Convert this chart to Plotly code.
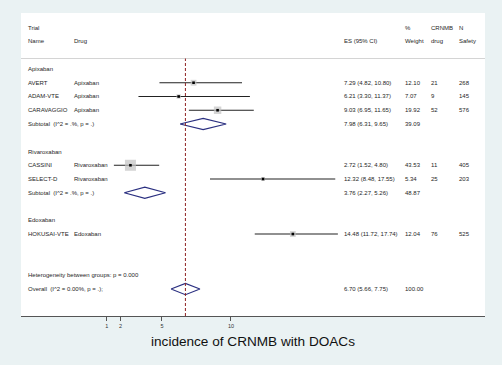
import plotly.graph_objects as go

# ---------------- data ----------------
groups = ["Apixaban", "Rivaroxaban", "Edoxaban"]
studies = ["AVERT", "ADAM-VTE", "CARAVAGGIO", "CASSINI", "SELECT-D", "HOKUSAI-VTE"]
drugs = ["Apixaban", "Apixaban", "Apixaban", "Rivaroxaban", "Rivaroxaban", "Edoxaban"]
es = [7.29, 6.21, 9.03, 2.72, 12.32, 14.48]
ci_lo = [4.82, 3.30, 6.95, 1.52, 8.48, 11.72]
ci_hi = [10.80, 11.37, 11.65, 4.80, 17.55, 17.74]
weight = [12.10, 7.07, 19.92, 43.53, 5.34, 12.04]
crnmb = [21, 9, 52, 11, 25, 76]
n_safety = [268, 145, 576, 405, 203, 525]

sub_groups = ["Apixaban", "Rivaroxaban"]
sub_es = [7.98, 3.76]
sub_lo = [6.31, 2.27]
sub_hi = [9.65, 5.26]
sub_w = [39.09, 48.87]

overall_es = 6.70
overall_lo = 5.66
overall_hi = 7.75
overall_w = 100.00
het_p = "0.000"

tick_vals = [1, 2, 5, 10]
axis_title = "incidence of CRNMB with DOACs"

# ---------------- layout helpers ----------------
W, H = 502, 365
L, R, T, B = 21, 17, 13, 49
PW = W - L - R

def px(x):
    return (x - L) / PW

FONT = "Liberation Sans, Arial, sans-serif"
TXT = "#262626"
FS = 6

# row assignment
study_rows = []
group_rows = []
sub_rows = []
r = 3
for g in groups:
    group_rows.append(r)
    r += 1
    n = drugs.count(g)
    for _ in range(n):
        study_rows.append(r)
        r += 1
    if g in sub_groups:
        sub_rows.append(r)
        r += 1
    r += 1
het_row = 18
overall_row = 19

fig = go.Figure()

# CI lines
lx, ly = [], []
for lo, hi, row in zip(ci_lo, ci_hi, study_rows):
    lx += [lo, hi, None]
    ly += [row, row, None]
fig.add_trace(go.Scatter(x=lx, y=ly, mode="lines",
                         line=dict(color="#222222", width=1.1),
                         hoverinfo="skip", showlegend=False))
# weight boxes
fig.add_trace(go.Scatter(x=es, y=study_rows, mode="markers",
                         marker=dict(symbol="square", color="#c2c2c2",
                                     size=[1.67 * w ** 0.5 for w in weight],
                                     line=dict(width=0)),
                         hoverinfo="skip", showlegend=False))
# point estimates
fig.add_trace(go.Scatter(x=es, y=study_rows, mode="markers",
                         marker=dict(symbol="square", color="#000000", size=2.6,
                                     line=dict(width=0)),
                         hoverinfo="skip", showlegend=False))

# diamonds
h = 0.41
dx, dy = [], []
for e, lo, hi, row in list(zip(sub_es, sub_lo, sub_hi, sub_rows)) + [(overall_es, overall_lo, overall_hi, overall_row)]:
    dx += [lo, e, hi, e, lo, None]
    dy += [row, row - h, row, row + h, row, None]
fig.add_trace(go.Scatter(x=dx, y=dy, mode="lines",
                         line=dict(color="#2a2f80", width=1.1),
                         hoverinfo="skip", showlegend=False))

sep_row = 2.24
shapes = [
    dict(type="line", xref="paper", yref="y", x0=0, x1=1, y0=sep_row, y1=sep_row,
         line=dict(color="#d4d4d4", width=1)),
    dict(type="line", xref="x", yref="paper", x0=overall_es, x1=overall_es,
         y0=0, y1=(20.96 - sep_row) / (20.96 + 1.07),
         line=dict(color="#8e2222", width=1, dash="3px,2px")),
]

ann = []
def txt(x, y, s, size=FS, color=TXT):
    ann.append(dict(xref="paper", yref="y", x=px(x) - 1 / PW, y=y, text=s,
                    showarrow=False, xanchor="left", yanchor="middle",
                    font=dict(family=FONT, size=size, color=color)))

C1, C2, C3, C4, C5, C6 = 26.7, 73.3, 342.7, 403.5, 429.5, 458.0
# headers
txt(C1, 0, "Trial")
txt(C1, 1, "Name")
txt(C2, 1, "Drug")
txt(C3, 1, "ES (95% CI)")
txt(C4, 0, "%")
txt(C4, 1, "Weight")
txt(C5, 0, "CRNMB")
txt(C5, 1, "drug")
txt(C6, 0, "N")
txt(C6, 1, "Safety")

for g, row in zip(groups, group_rows):
    txt(C1, row, g)
for i, row in enumerate(study_rows):
    txt(C1, row, studies[i])
    txt(C2, row, drugs[i])
    txt(C3, row, f"{es[i]:.2f} ({ci_lo[i]:.2f}, {ci_hi[i]:.2f})")
    txt(C4, row, f"{weight[i]:.2f}")
    txt(C5, row, str(crnmb[i]))
    txt(C6, row, str(n_safety[i]))
for i, row in enumerate(sub_rows):
    txt(C1, row, "Subtotal\u00a0 (I^2 = .%, p = .)")
    txt(C3, row, f"{sub_es[i]:.2f} ({sub_lo[i]:.2f}, {sub_hi[i]:.2f})")
    txt(C4, row, f"{sub_w[i]:.2f}")
txt(C1, het_row, f"Heterogeneity between groups: p = {het_p}")
txt(C1, overall_row, "Overall\u00a0 (I^2 = 0.00%, p = .);")
txt(C3, overall_row, f"{overall_es:.2f} ({overall_lo:.2f}, {overall_hi:.2f})")
txt(C4, overall_row, f"{overall_w:.2f}")

ann.append(dict(xref="paper", yref="paper", x=0.5, y=-(341.7 - 316) / (316 - 13),
                text=axis_title, showarrow=False, xanchor="center", yanchor="middle",
                font=dict(family=FONT, size=13.6, color="#111111")))

x_left = (L - 92.89) / 13.81
x_right = (W - R - 92.89) / 13.81

fig.update_layout(
    width=W, height=H,
    margin=dict(l=L, r=R, t=T, b=B, pad=0),
    paper_bgcolor="#EAF2F3",
    plot_bgcolor="#FFFFFF",
    shapes=shapes,
    annotations=ann,
    showlegend=False,
    hovermode=False,
    xaxis=dict(range=[x_left, x_right], tickvals=tick_vals,
               ticktext=[str(v) for v in tick_vals],
               showgrid=False, zeroline=False, showline=True,
               linecolor="#555555", linewidth=1,
               ticks="outside", ticklen=4, tickcolor="#555555", tickwidth=1,
               tickfont=dict(family=FONT, size=5.5, color="#333333"),
               fixedrange=True),
    yaxis=dict(range=[20.96, -1.07], visible=False, showgrid=False,
               zeroline=False, fixedrange=True),
)

fig.write_html("out.html",
               config={"displayModeBar": False, "staticPlot": True},
               post_script="document.body.style.margin='0';document.body.style.overflow='hidden';document.body.style.background='#EAF2F3';")
